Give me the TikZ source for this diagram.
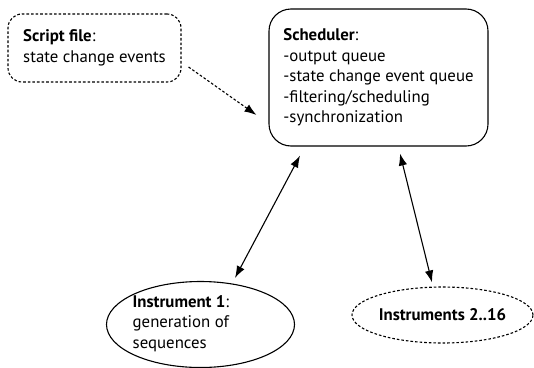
\documentclass[tikz,border=0pt]{standalone}
\usepackage{fontspec}
\setmainfont{PT Sans}
\usetikzlibrary{arrows.meta,calc,shapes.geometric}
\begin{document}
\begin{tikzpicture}[x=1pt,y=-1pt,
  txt/.style={font=\fontsize{16.8}{20.5}\selectfont, align=left, inner sep=0pt},
  dotline/.style={line width=1.1pt, dash pattern=on 2.6pt off 2pt},
  solidline/.style={line width=1.1pt},
  tip/.style={-{Latex[length=12pt,width=8.5pt]}},
  dtip/.style={{Latex[length=12pt,width=8.5pt]}-{Latex[length=12pt,width=8.5pt]}}
]
\useasboundingbox (0,0) rectangle (534,367);
% Script file box
\node[txt, draw, dotline, rounded corners=14pt, minimum width=173pt, minimum height=68pt]
  (script) at (94.5,48) {\textbf{Script file}:\\state change events};
% Scheduler box
\node[txt, draw, solidline, rounded corners=22pt, minimum width=219pt, minimum height=137pt]
  (sched) at (378.5,77.5) {\textbf{Scheduler}:\\-output queue\\-state change event queue\\-filtering/scheduling\\-synchronization};
% Instrument 1
\node[draw, solidline, ellipse, minimum width=188pt, minimum height=86pt, inner sep=0pt]
  (ins1) at (200.5,324.5) {};
\node[txt, anchor=west] (ins1text) at ($(ins1.center)+(-68,-1)$) {\textbf{Instrument 1}:\\generation of\\sequences};
% Instruments 2..16
\node[txt, draw, dotline, ellipse, minimum width=181pt, minimum height=56pt, inner sep=0pt]
  (ins2) at (442.5,315) {\textbf{Instruments 2..16}};
% connectors
\draw[dotline, tip] ($(script.east)+(7,19)$) -- ($(sched.west)+(-12,37.5)$);
\draw[solidline, dtip] ($(sched.south)+(-78.5,9)$) -- ($(ins1.north)+(34.5,-3)$);
\draw[solidline, dtip] ($(sched.south)+(21.5,7)$) -- ($(ins2.north)+(-10.5,-4)$);
\end{tikzpicture}
\end{document}
